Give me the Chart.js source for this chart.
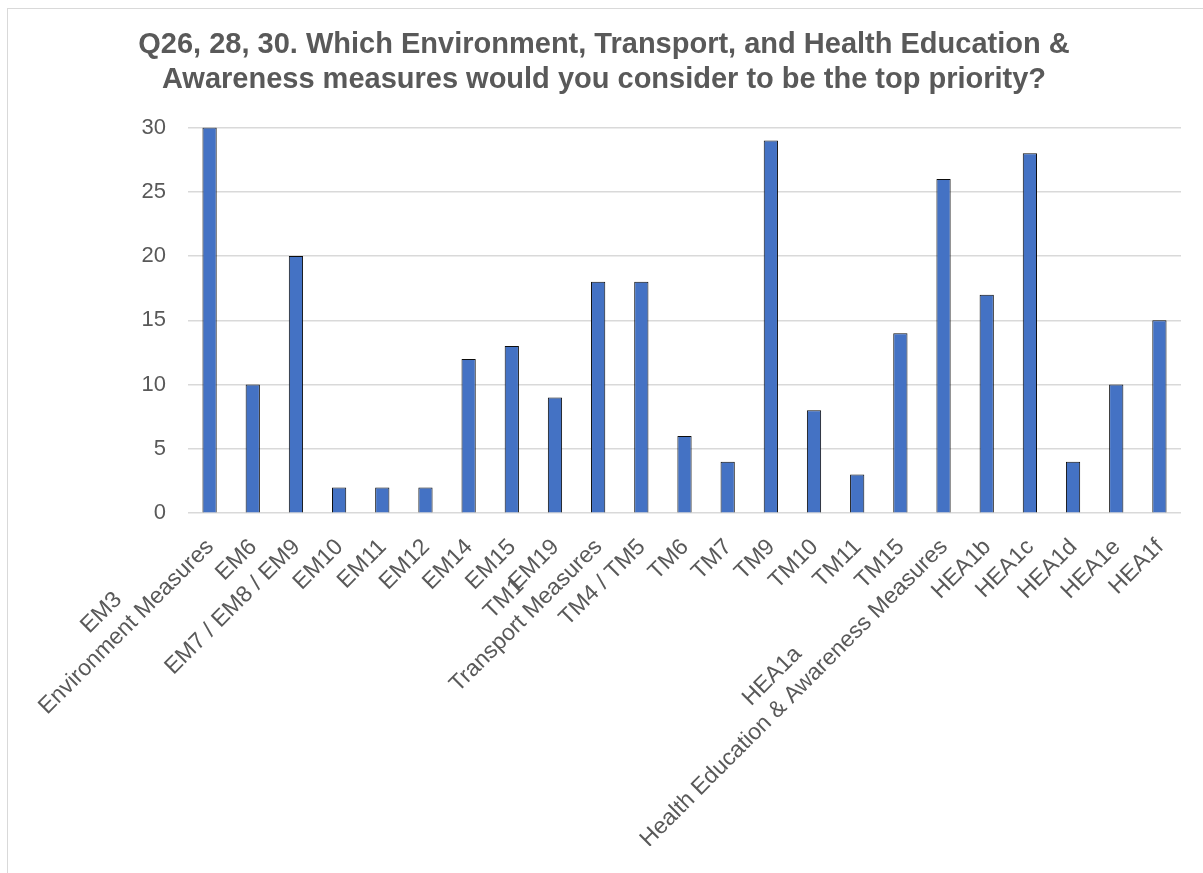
<!DOCTYPE html>
<html>
<head>
<meta charset="utf-8">
<title>Top priority measures</title>
<script src="https://cdn.jsdelivr.net/npm/chart.js@4.4.1/dist/chart.umd.min.js"></script>
<style>
  html, body { margin: 0; padding: 0; background: #ffffff; overflow: hidden; }
  #frame {
    position: absolute; left: 7px; top: 8px; width: 1400px; height: 1100px;
    border: 1.5px solid #d9d9d9; box-sizing: border-box;
  }
  #wrap { position: absolute; left: 0; top: 0; width: 1203px; height: 873px; }
</style>
</head>
<body>
<div id="frame"></div>
<div id="wrap"><canvas id="chart" width="1203" height="873"></canvas></div>
<script>
// Measures, in the order they appear along the axis
const categories = [
  'EM3', 'EM6', 'EM7 / EM8 / EM9', 'EM10', 'EM11', 'EM12', 'EM14', 'EM15', 'EM19',
  'TM1', 'TM4 / TM5', 'TM6', 'TM7', 'TM9', 'TM10', 'TM11', 'TM15',
  'HEA1a', 'HEA1b', 'HEA1c', 'HEA1d', 'HEA1e', 'HEA1f'
];

// Number of respondents naming each measure as top priority
const counts = [
  30, 10, 20, 2, 2, 2, 12, 13, 9,
  18, 18, 6, 4, 29, 8, 3, 14,
  26, 17, 28, 4, 10, 15
];

// Measure groups and the category index each one starts at
const groupNames = ['Environment Measures', 'Transport Measures', 'Health Education & Awareness Measures'];
const groupStart = [0, 9, 17];

// Value axis
const yMin = 0;
const yMax = 30;
const yStep = 5;

const titleLines = [
  'Q26, 28, 30. Which Environment, Transport, and Health Education &',
  'Awareness measures would you consider to be the top priority?'
];

const FONT_FAMILY = '"Liberation Sans", Arial, Helvetica, sans-serif';
const TEXT_GREY = '#595959';
const X_FONT = { family: FONT_FAMILY, size: 23, lineHeight: 1.2 };
const Y_FONT = { family: FONT_FAMILY, size: 22, lineHeight: 1.2 };

// Two-line axis labels: the first measure of a group sits centred above the group name
const measureCtx = document.createElement('canvas').getContext('2d');
measureCtx.font = X_FONT.size + 'px ' + FONT_FAMILY;
function centredOver(text, wider) {
  const gap = (measureCtx.measureText(wider).width - measureCtx.measureText(text).width) / 2;
  const n = Math.max(0, Math.round(gap / measureCtx.measureText(' ').width) + 1);
  return text + ' '.repeat(n);
}
const axisLabels = categories.map((name, i) => {
  const g = groupStart.indexOf(i);
  return g >= 0 ? [centredOver(name, groupNames[g]), groupNames[g]] : ['', name];
});

new Chart(document.getElementById('chart'), {
  type: 'bar',
  data: {
    labels: axisLabels,
    datasets: [{
      data: counts,
      backgroundColor: '#4472c4',
      borderColor: '#0d0d0d',
      borderWidth: 1,
      borderSkipped: 'bottom',
      barPercentage: 0.33,
      categoryPercentage: 1
    }]
  },
  options: {
    responsive: false,
    devicePixelRatio: 1,
    animation: false,
    layout: { padding: { left: 27, right: 22, top: 0, bottom: 27 } },
    plugins: {
      legend: { display: false },
      tooltip: { enabled: false },
      title: {
        display: true,
        text: titleLines,
        color: TEXT_GREY,
        font: { family: FONT_FAMILY, size: 29, weight: 'bold', lineHeight: 1.2 },
        padding: { top: 28, bottom: 30 }
      }
    },
    scales: {
      x: {
        grid: { display: false },
        border: { display: false },
        ticks: {
          color: TEXT_GREY,
          font: X_FONT,
          autoSkip: false,
          minRotation: 45,
          maxRotation: 45,
          padding: -7,
          labelOffset: -19
        }
      },
      y: {
        min: yMin,
        max: yMax,
        afterFit: (scale) => { scale.width = 161; },
        grid: { color: '#d9d9d9', lineWidth: 1.5, drawTicks: false },
        border: { display: false },
        ticks: {
          stepSize: yStep,
          color: TEXT_GREY,
          font: Y_FONT,
          padding: 22
        }
      }
    }
  }
});
</script>
</body>
</html>
